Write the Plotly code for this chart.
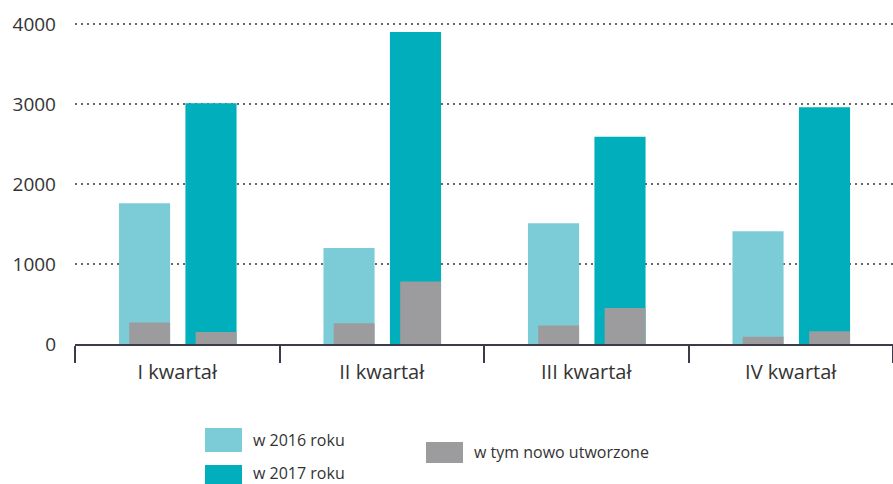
import plotly.graph_objects as go

categories = ["I kwartał", "II kwartał", "III kwartał", "IV kwartał"]
y2016 = [1760, 1200, 1510, 1410]
y2017 = [3010, 3900, 2590, 2960]
new2016 = [270, 260, 230, 90]
new2017 = [150, 780, 450, 160]

name2016 = "w 2016 roku"
name2017 = "w 2017 roku"
nameNew = "w tym nowo utworzone"

C2016 = "#7CCCD7"
C2017 = "#00AEBC"
CNEW = "#9C9C9E"
TXT = "#333333"
AX = "#3C3C48"
FONT = "Open Sans"

W, H = 893, 484
ML, MR, MT, MB = 75, 0, 20, 140
PW = W - ML - MR
PH = H - MT - MB

fig = go.Figure()
fig.add_bar(x=categories, y=y2016, name=name2016, marker_color=C2016,
            width=0.25, offset=-0.285, showlegend=False)
fig.add_bar(x=categories, y=y2017, name=name2017, marker_color=C2017,
            width=0.25, offset=0.04, showlegend=False)
fig.add_bar(x=categories, y=new2016, name=nameNew, marker_color=CNEW,
            width=0.2, offset=-0.235, showlegend=False)
fig.add_bar(x=categories, y=new2017, name=nameNew, marker_color=CNEW,
            width=0.2, offset=0.09, showlegend=False)

for tr in fig.data:
    tr.marker.line.width = 0


def px_x(p):
    return (p - ML) / PW


def px_y(p):
    return (H - MB - p) / PH


legend_items = [
    (205, 428, 242, 452, C2016, name2016, 440),
    (205, 465, 242, 489, C2017, name2017, 473),
    (426, 442, 463, 463, CNEW, nameNew, 452),
]
shapes = []
annotations = []
for x0, y0, x1, y1, col, label, ty in legend_items:
    shapes.append(dict(type="rect", xref="paper", yref="paper",
                       x0=px_x(x0), x1=px_x(x1), y0=px_y(y1), y1=px_y(y0),
                       fillcolor=col, line=dict(width=0), layer="above"))
    annotations.append(dict(xref="paper", yref="paper", x=px_x(x1 + 9),
                            y=px_y(ty), text=label,
                            showarrow=False, xanchor="left", yanchor="middle",
                            font=dict(family=FONT, size=16, color=TXT)))

fig.update_layout(
    width=W, height=H,
    margin=dict(l=ML, r=MR, t=MT, b=MB),
    barmode="overlay",
    plot_bgcolor="white", paper_bgcolor="white",
    font=dict(family=FONT, color=TXT),
    shapes=shapes, annotations=annotations,
    showlegend=False,
)
fig.update_xaxes(
    type="category", range=[-0.5, 3.5],
    tickson="boundaries", ticks="outside", ticklen=17, tickwidth=2,
    tickcolor=AX, showline=True, linecolor=AX, linewidth=2,
    ticklabelstandoff=9,
    showgrid=False, tickfont=dict(family=FONT, size=20, color=TXT),
)
fig.update_yaxes(
    range=[0, 4050], tickvals=[0, 1000, 2000, 3000, 4000],
    showgrid=True, gridcolor="#666666", gridwidth=1.5, griddash="2px,4px",
    zeroline=False, showline=False, ticks="",
    ticklabelstandoff=18,
    tickfont=dict(family=FONT, size=19, color=TXT),
)

fig.write_html(
    "out.html",
    config={"displayModeBar": False},
    post_script="document.body.style.margin='0';document.body.style.overflow='hidden';",
)
